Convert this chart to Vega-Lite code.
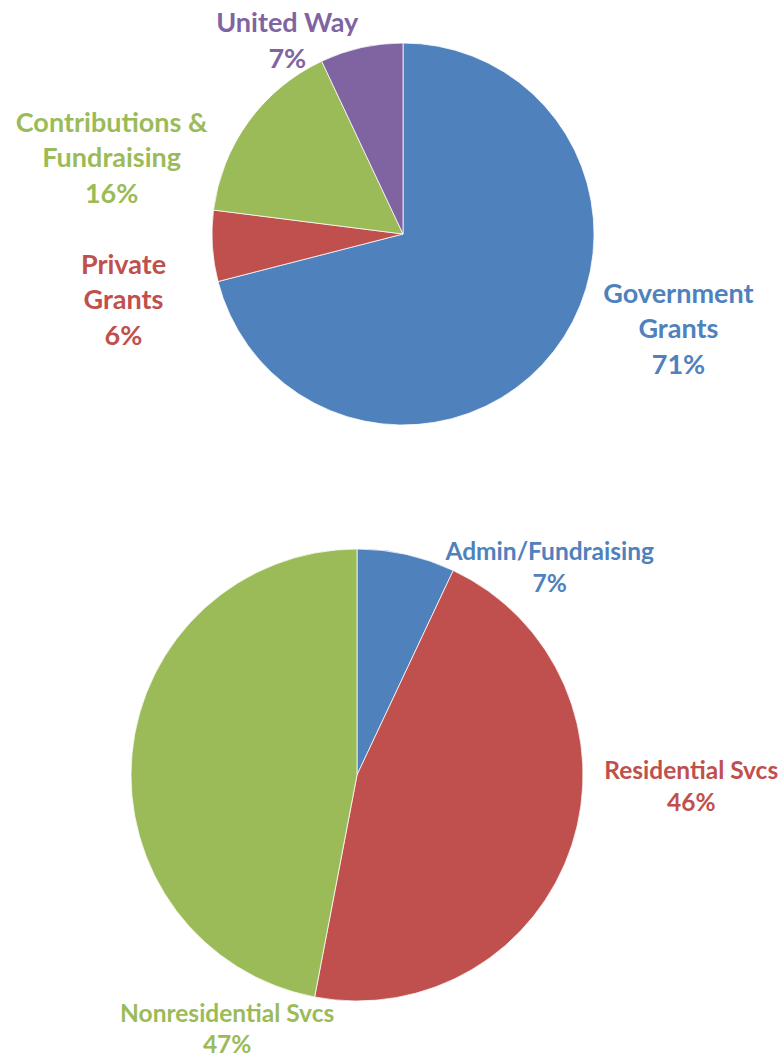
{
  "$schema": "https://vega.github.io/schema/vega-lite/v6.json",
  "background": "white",
  "padding": {"left": 15, "top": 0, "right": 0, "bottom": 0},
  "bounds": "flush",
  "spacing": 22,
  "config": {"view": {"stroke": null}},
  "resolve": {"scale": {"color": "independent", "theta": "independent"}},
  "datasets": {
    "revenue": [
      {"source": "Government Grants", "share": 71, "rank": 1, "label": "Government\nGrants\n71%"},
      {"source": "Private Grants", "share": 6, "rank": 2, "label": "Private\nGrants\n6%"},
      {"source": "Contributions & Fundraising", "share": 16, "rank": 3, "label": "Contributions &\nFundraising\n16%"},
      {"source": "United Way", "share": 7, "rank": 4, "label": "United Way\n7%"}
    ],
    "expenses": [
      {"category": "Admin/Fundraising", "share": 7, "rank": 1, "label": "Admin/Fundraising\n7%"},
      {"category": "Residential Svcs", "share": 46, "rank": 2, "label": "Residential Svcs\n46%"},
      {"category": "Nonresidential Svcs", "share": 47, "rank": 3, "label": "Nonresidential Svcs\n47%"}
    ]
  },
  "vconcat": [
    {
      "width": 762,
      "height": 468,
      "data": {"name": "revenue"},
      "encoding": {
        "theta": {"field": "share", "type": "quantitative", "stack": true},
        "order": {"field": "rank", "type": "quantitative"},
        "color": {
          "field": "source",
          "type": "nominal",
          "legend": null,
          "scale": {
            "domain": ["Government Grants", "Private Grants", "Contributions & Fundraising", "United Way"],
            "range": ["#4F81BD", "#C0504D", "#9BBB59", "#8064A2"]
          }
        }
      },
      "layer": [
        {"mark": {"type": "arc", "outerRadius": 191, "stroke": "#ffffff", "strokeWidth": 0.75}},
        {
          "mark": {
            "type": "text",
            "radius": 260,
            "font": "Lato",
            "fontWeight": "bold",
            "fontSize": 27,
            "lineHeight": 35.5,
            "lineBreak": "\n",
            "align": "center",
            "baseline": "middle",
            "dx": {"expr": "datum.source === 'Government Grants' ? 70 : datum.source === 'Private Grants' ? -20 : datum.source === 'Contributions & Fundraising' ? -81 : -59"},
            "dy": {"expr": "datum.source === 'Government Grants' ? -98.5 : datum.source === 'Private Grants' ? 15.5 : datum.source === 'Contributions & Fundraising' ? 42.5 : 44"}
          },
          "encoding": {"text": {"field": "label", "type": "nominal"}}
        }
      ]
    },
    {
      "width": 670,
      "height": 570,
      "data": {"name": "expenses"},
      "encoding": {
        "theta": {"field": "share", "type": "quantitative", "stack": true},
        "order": {"field": "rank", "type": "quantitative"},
        "color": {
          "field": "category",
          "type": "nominal",
          "legend": null,
          "scale": {
            "domain": ["Admin/Fundraising", "Residential Svcs", "Nonresidential Svcs"],
            "range": ["#4F81BD", "#C0504D", "#9BBB59"]
          }
        }
      },
      "layer": [
        {"mark": {"type": "arc", "outerRadius": 226, "stroke": "#ffffff", "strokeWidth": 0.75}},
        {
          "mark": {
            "type": "text",
            "radius": 260,
            "font": "Lato",
            "fontWeight": "bold",
            "fontSize": 24.5,
            "lineHeight": 31.5,
            "lineBreak": "\n",
            "align": "center",
            "baseline": "middle",
            "dx": {"expr": "datum.category === 'Admin/Fundraising' ? 136 : datum.category === 'Residential Svcs' ? 87 : 129"},
            "dy": {"expr": "datum.category === 'Admin/Fundraising' ? 32 : datum.category === 'Residential Svcs' ? -83 : 264"}
          },
          "encoding": {"text": {"field": "label", "type": "nominal"}}
        }
      ]
    }
  ]
}
